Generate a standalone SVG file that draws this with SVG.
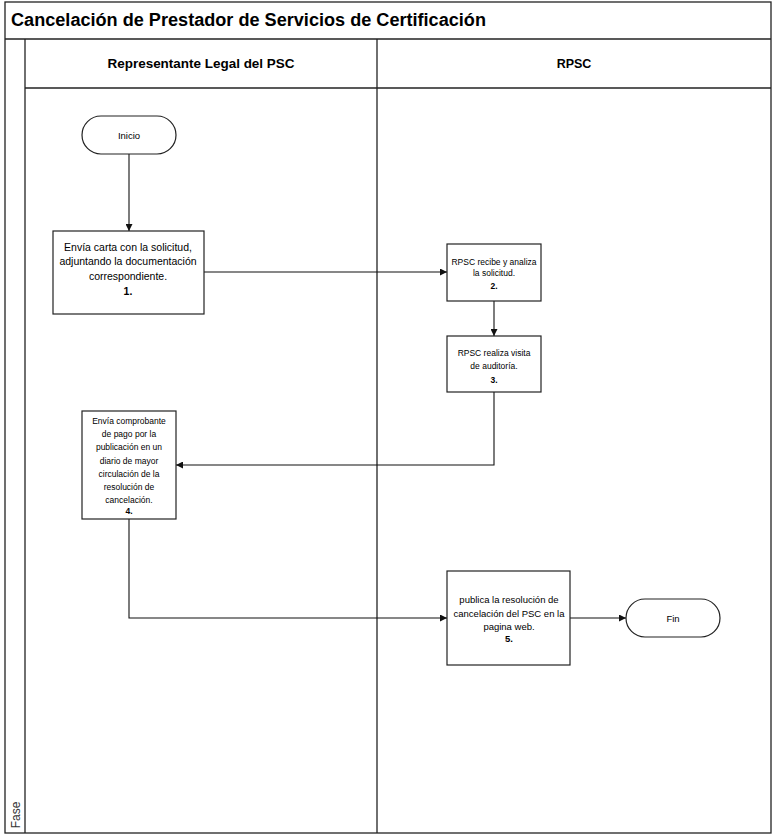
<svg xmlns="http://www.w3.org/2000/svg" width="773" height="840" viewBox="0 0 773 840">
<style>
.frame{fill:none;stroke:#222;stroke-width:1.3}
.box{fill:#fff;stroke:#222;stroke-width:1.2}
.conn{fill:none;stroke:#111;stroke-width:1.1}
text{font-family:"Liberation Sans",Arial,sans-serif;fill:#000;text-anchor:middle}
.t{font-size:9.5px}
.m{font-size:10.5px}
.s{font-size:8.5px}
.h{font-size:12.5px;font-weight:bold}
.title{font-size:18px;font-weight:bold;text-anchor:start}
.b{font-weight:bold}
</style>
<defs>
<marker id="arr" viewBox="0 0 10 10" refX="10" refY="5" markerWidth="7" markerHeight="7" markerUnits="userSpaceOnUse" orient="auto">
<path d="M0,0 L10,5 L0,10 z" fill="#111"/>
</marker>
</defs>
<rect width="773" height="840" fill="#fff"/>
<g id="pool">
<rect class="frame" x="5" y="2" width="766" height="831"/>
<line class="frame" x1="5" y1="39" x2="771" y2="39"/>
<line class="frame" x1="25" y1="39" x2="25" y2="833"/>
<line class="frame" x1="25" y1="88" x2="771" y2="88"/>
<line class="frame" x1="377" y1="39" x2="377" y2="833"/>
<text class="title" x="11" y="26" textLength="475" lengthAdjust="spacingAndGlyphs">Cancelación de Prestador de Servicios de Certificación</text>
<text class="h" x="201" y="68" textLength="187" lengthAdjust="spacingAndGlyphs">Representante Legal del PSC</text>
<text class="h" x="574" y="68">RPSC</text>
<text x="0" y="0" transform="translate(20,815) rotate(-90)" style="font-size:12px;fill:#333">Fase</text>
</g>
<g id="connectors">
<line class="conn" x1="129" y1="154" x2="129" y2="231" marker-end="url(#arr)"/>
<line class="conn" x1="204" y1="272" x2="447" y2="272" marker-end="url(#arr)"/>
<line class="conn" x1="494" y1="301" x2="494" y2="336" marker-end="url(#arr)"/>
<polyline class="conn" points="494,392 494,465 176,465" marker-end="url(#arr)"/>
<polyline class="conn" points="129,519 129,618 447,618" marker-end="url(#arr)"/>
<line class="conn" x1="570" y1="618" x2="626" y2="618" marker-end="url(#arr)"/>
</g>
<g id="inicio">
<rect class="box" x="82" y="116" width="94" height="38" rx="19" ry="19"/>
<text class="t" x="129" y="138.5">Inicio</text>
</g>
<g id="step1">
<rect class="box" x="53" y="231" width="151" height="83"/>
<text class="m" x="128" y="251">Envía carta con la solicitud,</text>
<text class="m" x="128" y="265">adjuntando la documentación</text>
<text class="m" x="128" y="280">correspondiente.</text>
<text class="m b" x="128" y="295">1.</text>
</g>
<g id="step2">
<rect class="box" x="447" y="244" width="94" height="57"/>
<text class="s" x="494" y="265">RPSC recibe y analiza</text>
<text class="s" x="494" y="276">la solicitud.</text>
<text class="s b" x="494" y="289">2.</text>
</g>
<g id="step3">
<rect class="box" x="447" y="336" width="94" height="56"/>
<text class="s" x="494" y="356">RPSC realiza visita</text>
<text class="s" x="494" y="369">de auditoría.</text>
<text class="s b" x="494" y="383">3.</text>
</g>
<g id="step4">
<rect class="box" x="82" y="411" width="94" height="108"/>
<text class="s" x="129" y="424">Envía comprobante</text>
<text class="s" x="129" y="437">de pago por la</text>
<text class="s" x="129" y="450">publicación en un</text>
<text class="s" x="129" y="464">diario de mayor</text>
<text class="s" x="129" y="477">circulación de la</text>
<text class="s" x="129" y="490">resolución de</text>
<text class="s" x="129" y="503">cancelación.</text>
<text class="s b" x="129" y="514">4.</text>
</g>
<g id="step5">
<rect class="box" x="447" y="571" width="123" height="94"/>
<text class="t" x="509" y="603">publica la resolución de</text>
<text class="t" x="509" y="617">cancelación del PSC en la</text>
<text class="t" x="509" y="630">pagina web.</text>
<text class="t b" x="509" y="642">5.</text>
</g>
<g id="fin">
<rect class="box" x="626" y="599" width="94" height="38" rx="19" ry="19"/>
<text class="t" x="673" y="621.5">Fin</text>
</g>
</svg>
